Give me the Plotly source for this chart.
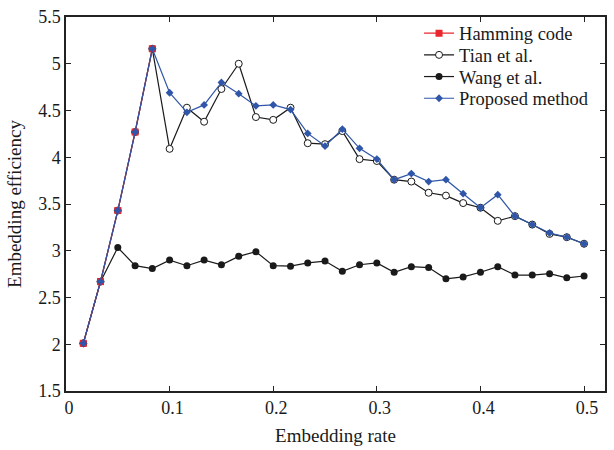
import plotly.graph_objects as go

rates = [0.0167, 0.0333, 0.05, 0.0667, 0.0833, 0.1, 0.1167, 0.1333, 0.15, 0.1667,
         0.1833, 0.2, 0.2167, 0.2333, 0.25, 0.2667, 0.2833, 0.3, 0.3167, 0.3333,
         0.35, 0.3667, 0.3833, 0.4, 0.4167, 0.4333, 0.45, 0.4667, 0.4833, 0.5]

hamming = [2.01, 2.67, 3.43, 4.27, 5.16]

tian = [2.01, 2.67, 3.43, 4.27, 5.16, 4.09, 4.53, 4.38, 4.73, 5.00,
        4.43, 4.40, 4.53, 4.15, 4.14, 4.28, 3.98, 3.96, 3.76, 3.74,
        3.62, 3.59, 3.51, 3.46, 3.32, 3.37, 3.28, 3.18, 3.145, 3.075]

wang = [2.01, 2.67, 3.035, 2.84, 2.81, 2.90, 2.84, 2.90, 2.85, 2.94,
        2.99, 2.84, 2.835, 2.87, 2.89, 2.78, 2.85, 2.87, 2.77, 2.83,
        2.82, 2.70, 2.72, 2.77, 2.83, 2.74, 2.74, 2.755, 2.71, 2.73]

proposed = [2.01, 2.67, 3.43, 4.27, 5.16, 4.69, 4.48, 4.56, 4.80, 4.68,
            4.55, 4.56, 4.51, 4.255, 4.12, 4.30, 4.095, 3.98, 3.76, 3.825,
            3.74, 3.76, 3.61, 3.46, 3.60, 3.37, 3.28, 3.19, 3.145, 3.075]

x_ticks = [0, 0.1, 0.2, 0.3, 0.4, 0.5]
x_ticklabels = ["0", "0.1", "0.2", "0.3", "0.4", "0.5"]
y_ticks = [1.5, 2, 2.5, 3, 3.5, 4, 4.5, 5, 5.5]
y_ticklabels = ["1.5", "2", "2.5", "3", "3.5", "4", "4.5", "5", "5.5"]

RED = "#e8262d"
BLUE = "#2f56a8"
INK = "#1a1a1a"
FONT = "Liberation Serif"

fig = go.Figure()
fig.add_trace(go.Scatter(
    x=rates[:len(tian)], y=tian, name="Tian et al.", mode="lines+markers",
    line=dict(color=INK, width=1.2),
    marker=dict(symbol="circle", size=7, color="white", line=dict(color=INK, width=1)),
    legend="legend2"))
fig.add_trace(go.Scatter(
    x=rates, y=wang, name="Wang et al.", mode="lines+markers",
    line=dict(color=INK, width=1.2),
    marker=dict(symbol="circle", size=7, color=INK),
    legend="legend3"))
fig.add_trace(go.Scatter(
    x=rates[:len(hamming)], y=hamming, name="Hamming code", mode="lines+markers",
    line=dict(color=RED, width=1.2),
    marker=dict(symbol="square", size=7, color=RED),
    legend="legend"))
fig.add_trace(go.Scatter(
    x=rates, y=proposed, name="Proposed method", mode="lines+markers",
    line=dict(color=BLUE, width=1.2),
    marker=dict(symbol="diamond", size=6, color=BLUE),
    legend="legend4"))

axis_common = dict(
    showline=True, linecolor="#222222", linewidth=1.5, mirror="ticks",
    ticks="inside", ticklen=5, tickcolor="#222222", tickwidth=1,
    showgrid=False, zeroline=False,
    tickfont=dict(family=FONT, size=18, color=INK),
)

fig.update_xaxes(range=[0, 0.5202], tickvals=x_ticks, ticktext=x_ticklabels,
                 ticklabelshift=3,
                 title=dict(text="Embedding rate", font=dict(family=FONT, size=19, color=INK), standoff=11),
                 **axis_common)
fig.update_yaxes(range=[1.5, 5.5], tickvals=y_ticks, ticktext=y_ticklabels,
                 title=dict(text="Embedding efficiency", font=dict(family=FONT, size=19, color=INK), standoff=12),
                 **axis_common)

legend_x = 0.655
row_y = [0.9555, 0.8975, 0.8395, 0.7815]
legend_common = dict(x=legend_x, xanchor="left", yanchor="middle",
                     bgcolor="rgba(255,255,255,0)", borderwidth=0,
                     font=dict(family=FONT, size=18.5, color=INK),
                     itemwidth=30)

fig.update_layout(
    width=614, height=450,
    margin=dict(l=66, r=7, t=15, b=58),
    paper_bgcolor="white", plot_bgcolor="white",
    font=dict(family=FONT, size=18, color=INK),
    legend=dict(y=row_y[0], **legend_common),
    legend2=dict(y=row_y[1], **legend_common),
    legend3=dict(y=row_y[2], **legend_common),
    legend4=dict(y=row_y[3], **legend_common),
    showlegend=True,
)

fig.write_html("out.html")
